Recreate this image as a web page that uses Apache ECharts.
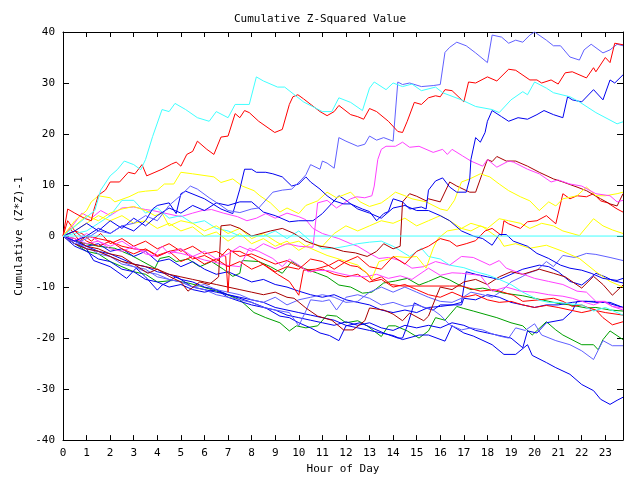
<!DOCTYPE html>
<html><head><meta charset="utf-8">
<script src="https://cdn.jsdelivr.net/npm/echarts@6/dist/echarts.min.js"></script>
<style>html,body{margin:0;padding:0;background:#fff}#c{width:640px;height:480px}</style>
</head><body><div id="c"></div>
<script>
// ---- data: [hour, cumulative value] ----
const cyanFlat = [[0,0],[23.75,0]];
const cyanTop = [[0,0],[0.4,1.5],[0.8,3],[1.35,5],[1.6,9],[2,11.8],[2.3,13],[2.6,14.7],[3,14],[3.3,13],[3.5,15],[3.8,19.5],[4.2,24.8],[4.5,24.4],[4.75,26],[5.2,24.8],[5.7,23.2],[6.2,22.5],[6.5,24.4],[7,23.2],[7.3,25.8],[7.9,25.8],[8.2,31.2],[8.5,30.4],[9.1,29.2],[9.4,29.2],[10.2,26.3],[11,24.4],[11.4,24.4],[11.7,27.1],[12.2,26.2],[12.7,24.6],[13,29],[13.2,30.2],[13.7,28.7],[14,30],[14.4,29.3],[14.8,29.8],[15.2,28.5],[15.8,29.2],[16.1,28.1],[16.9,26.7],[17.5,25.4],[18.2,24.8],[18.5,24.2],[19,26.7],[19.5,28.3],[19.7,27.7],[20,30.2],[20.5,29],[20.8,28.1],[21.5,27.3],[21.9,26.3],[22.6,24.2],[23.5,22],[23.75,22.4]];
const cyanLow = [[0,0],[0.5,0.5],[1,1],[1.5,2.5],[2,4],[2.5,7],[3,7],[3.5,4.5],[4,5.5],[4.5,3.5],[5,4],[5.5,2.5],[6,3],[6.5,1.5],[7,1],[7.5,0],[8,0.1],[8.5,0],[9,1],[9.5,-0.5],[10,1],[10.5,-1],[11,-2.5],[11.5,-2.4],[12,-2],[12.5,-1.5],[13,-1.2],[13.5,-1],[14,-2],[14.7,-4],[15.2,-2.4],[15.5,-4],[16,-4.5],[16.4,-5.7],[17,-6.2],[17.5,-7],[18,-7.6],[18.5,-8.5],[19,-9.5],[19.5,-11],[20.2,-12.6],[20.6,-13],[21,-13],[21.5,-13.3],[22,-13.5],[22.5,-14.7],[23,-14],[23.75,-15.5]];
const redTop = [[0,0],[0.2,5.3],[0.5,4.5],[0.9,3.5],[1.2,3],[1.3,5],[1.5,8],[1.8,9],[2,10.6],[2.4,10.6],[2.77,12.5],[3.05,12.2],[3.35,14],[3.55,11.8],[3.9,12.5],[4.2,13.1],[4.6,14.1],[4.8,14.5],[5,13.7],[5.25,16],[5.5,16.6],[5.7,18.6],[6.1,17],[6.4,16],[6.7,19.4],[7,19.6],[7.3,24],[7.5,23.2],[7.7,24.6],[7.9,24.2],[8.3,22.5],[8.98,20.3],[9.3,20.9],[9.6,25.8],[9.75,27.3],[9.96,27.7],[10.2,26.9],[10.9,24.4],[11.2,23.6],[11.5,24.4],[11.7,25.6],[12.2,23.8],[12.5,23.4],[12.75,22.9],[13,25],[13.3,24.4],[13.8,22.5],[14.2,20.5],[14.4,20.3],[14.6,22.5],[14.9,26.2],[15.2,25.8],[15.5,27.1],[15.8,27.5],[16,27.3],[16.2,28.7],[16.5,28.5],[17,26.3],[17.2,30.2],[17.5,30],[18,31.2],[18.4,30.4],[18.9,32.7],[19.2,32.5],[19.8,30.6],[20.1,30.6],[20.3,30],[20.7,30.6],[21,29.8],[21.3,32],[21.6,32.2],[21.8,31.8],[22.2,31],[22.5,33],[22.6,32.2],[23,35],[23.2,34],[23.4,37.8],[23.75,37.5]];
const redMid = [[0,0],[0.5,1],[1,-1],[1.5,-2],[2,-1],[2.5,-2.5],[3,-3.5],[3.5,-2.5],[4,-4],[4.5,-3],[5,-5],[5.5,-4],[6,-5.5],[6.5,-4.5],[7,-6],[7.5,-5],[8,-6.5],[8.5,-5.5],[9,-7],[9.5,-6],[10,-6.5],[10.5,-4.5],[11,-5],[11.5,-6.5],[12,-5],[12.5,-4],[13,-6],[13.5,-6.5],[14,-4],[14.5,-5.5],[15,-3],[15.5,-2],[16,-0.5],[16.4,-1],[16.7,-2],[17.1,-1.5],[17.5,-0.9],[17.9,1],[18.2,1.5],[18.6,0.1],[18.7,3],[18.9,2.4],[19.4,1.5],[19.7,2.8],[20.1,3],[20.5,4],[20.9,2.4],[21.2,8.3],[21.5,7.3],[21.8,7.9],[22.2,7.7],[22.5,8.3],[22.8,6.9],[23.1,6.5],[23.5,5.3],[23.75,4.7]];
const redLow = [[0,0],[0.2,3],[0.5,1],[0.8,0.5],[1.2,-1],[1.6,0.5],[2,-1.5],[2.5,-0.5],[3,-2],[3.5,-1],[4,-2.5],[4.5,-1.5],[5,-3],[5.5,-2],[6,-3.5],[6.5,-3],[6.9,-4],[7,-11],[7.1,-3],[7.5,-3],[8.1,-4.4],[8.6,-5.9],[9.1,-7.5],[9.6,-8.9],[10,-11.6],[10.2,-6.7],[10.7,-6.5],[11.3,-5.7],[11.7,-4.7],[12.2,-5.8],[12.5,-6],[12.9,-7.3],[13.1,-8.7],[13.5,-8],[13.9,-9.5],[14.4,-9.8],[16.4,-9.8],[16.9,-9.8],[17.7,-10.8],[18.3,-10.5],[19.1,-11.6],[19.5,-12.8],[20.2,-12.5],[20.8,-12.2],[21.2,-12.8],[21.6,-13.8],[22,-13.5],[22.3,-14.1],[22.6,-14.5],[22.9,-16],[23.3,-17.4],[23.75,-16.8]];
const redBand = [[0,0],[0.3,1.5],[0.7,-1],[1,0],[1.5,-0.5],[2,-1],[2.5,-2],[3,-2.5],[3.6,-2.8],[4,-3.8],[4.5,-3],[5,-2.5],[5.5,-4.5],[6,-3.8],[6.5,-5],[7,-2.5],[7.5,-4],[8,-3.5],[8.5,-4.5],[9,-5.5],[9.5,-4.8],[10,-6],[10.5,-7],[11,-6.5],[11.5,-7.5],[12,-8],[12.5,-7.5],[13,-9],[13.5,-8.5],[14,-10],[14.5,-9.5],[15,-10.5],[15.5,-11.5],[16,-12],[16.5,-11],[17,-12],[17.5,-11.5],[18,-12.5],[18.5,-13],[19,-12.8],[19.5,-13.5],[20,-14],[20.5,-13.6],[21,-14],[21.5,-14.5],[22,-15],[22.5,-14.5],[23,-15],[23.75,-15.5]];
const lightBlueTop = [[0,0],[0.5,-1.5],[1,-0.5],[1.5,1],[2,0.5],[2.5,2],[3,2.5],[3.5,4],[4,3],[4.5,6],[5,8],[5.4,9.8],[5.7,9.2],[6.2,7.5],[6.7,6],[7,5],[7.5,4.6],[8,5.3],[8.3,5.5],[8.9,8.6],[9.3,9],[9.7,9.2],[10.1,11],[10.3,12],[10.5,14],[10.9,13.1],[11,14.7],[11.2,14.3],[11.5,13.3],[11.7,19.3],[12,18.6],[12.5,17.6],[12.8,18],[13,19.6],[13.3,18.8],[13.6,19.3],[14,18.6],[14.2,30.2],[14.4,29.7],[14.7,30],[15.2,29.3],[15.7,29.5],[16,29.7],[16.2,36],[16.4,37],[16.7,38],[17.1,37.3],[17.5,35.9],[18,34],[18.2,39.4],[18.6,39],[18.9,37.8],[19.2,38.4],[19.5,38],[19.8,39.4],[20,40],[20.5,38.4],[20.8,37.3],[21.1,37.3],[21.5,35.1],[21.9,34.5],[22.1,36.5],[22.4,37.6],[22.9,35.9],[23.2,36.5],[23.5,37.6],[23.75,37.3]];
const lightBlueLow = [[0,0],[0.5,-1],[1,-2.5],[1.5,-3],[2,-4],[2.5,-5.5],[3,-6],[3.5,-7],[4,-7.5],[4.5,-8.5],[5,-9],[5.5,-10],[6,-10.5],[6.5,-11.5],[7,-12],[7.5,-12.5],[8,-13],[8.5,-14],[9,-14.5],[9.6,-15],[10,-17.6],[10.3,-14.7],[10.5,-12.5],[11,-12.8],[11.3,-12.5],[11.6,-14.5],[12,-12],[12.5,-11.5],[13,-12.2],[13.5,-13.5],[14,-13],[14.5,-13.8],[15,-13.5],[15.7,-14.5],[16,-15.5],[16.4,-17.4],[16.9,-18.4],[17.3,-18],[17.8,-18.4],[18.1,-19],[18.5,-19.6],[18.9,-20],[19.2,-18],[19.6,-18.5],[20,-17.2],[20.3,-19.4],[20.9,-20.5],[21.5,-21.3],[22,-22.5],[22.5,-24.2],[22.9,-20.5],[23.3,-21.5],[23.75,-21.5]];
const lightBlueRise = [[0,0],[0.5,-1.5],[1,-2],[1.5,-3.5],[2,-4],[2.5,-5],[3,-6],[3.5,-6.5],[4,-8],[4.5,-8.5],[5,-9],[5.5,-10],[6,-9.5],[6.5,-10.5],[7,-11],[7.5,-11.5],[8,-12.5],[8.5,-13],[9,-12],[9.5,-13.5],[10,-12.5],[10.5,-12],[11,-11.5],[11.5,-12],[12,-13],[12.5,-12.8],[13,-11],[13.5,-10],[14,-11],[14.5,-10],[15,-11],[15.5,-12],[16,-12.8],[16.5,-13],[16.9,-12.2],[17.3,-11],[17.8,-11.5],[18.2,-12],[18.6,-10.8],[19,-9],[19.5,-7.9],[19.7,-7.3],[20.1,-6.7],[20.5,-5],[20.8,-6],[21.2,-3.8],[21.7,-4.2],[22.2,-3.4],[22.6,-3.6],[23.2,-4.2],[23.75,-4.8]];
const blueTop = [[0,0],[0.5,-1],[1,0],[1.5,1.5],[2,0.5],[2.5,2],[3,1],[3.5,3],[3.8,5.3],[4,6],[4.5,6.5],[4.8,4.4],[5,8.3],[5.2,8.8],[6,7.3],[6.7,5.3],[7.2,4.4],[7.5,9.2],[7.7,13.1],[8,13.1],[8.2,12.5],[8.6,12.5],[8.9,12.2],[9.3,11.6],[9.7,9.8],[10,10.2],[10.3,11.6],[10.5,10.6],[10.9,9.2],[11.2,7.9],[11.5,6.9],[11.9,6.3],[12.2,6.3],[12.7,5.3],[13,4.8],[13.3,3],[13.6,4.4],[13.8,4.8],[14,7.3],[14.4,6.7],[14.7,5.3],[15.2,5.7],[15.4,5.3],[15.5,9],[15.8,10.8],[16.1,11.4],[16.4,9.6],[16.7,8.6],[17.1,8.6],[17.25,11.2],[17.3,15],[17.5,19.3],[17.7,18.4],[17.9,20.3],[18,22.5],[18.2,24.6],[18.6,23.4],[18.9,22.5],[19.3,23.2],[19.7,22.9],[20.1,23.8],[20.4,24.6],[20.8,23.8],[21.2,23.2],[21.4,27.3],[21.6,26.7],[22,26.3],[22.5,28.7],[22.9,26.7],[23.2,30.6],[23.4,30],[23.75,31.6]];
const blueMid = [[0,0],[0.5,1],[1,2.5],[1.5,1],[2,3],[2.5,1.5],[3,3.5],[3.5,2],[4,4],[4.5,5.5],[5,4.5],[5.5,6],[6,5],[6.5,6.5],[7,6],[7.5,6.7],[8,6.7],[8.5,4.7],[9,4],[9.6,2.8],[10,3],[10.6,3],[11,4.4],[11.3,5.9],[11.7,7.9],[12,7],[12.5,5.3],[13,4.5],[13.5,3.5],[14,5.5],[14.5,6],[15,5],[15.5,5],[16,4],[16.4,3],[16.9,1],[17.4,0],[17.8,-0.5],[18.2,-1.8],[18.5,0.3],[18.8,0.3],[19.1,-1],[19.7,-2],[20.1,-3.4],[20.6,-4.4],[21.1,-5.7],[21.5,-6.3],[22,-6.7],[22.4,-7.3],[22.9,-8.3],[23.5,-8.7],[23.75,-8.3]];
const blueLowest = [[0,0],[0.5,-1],[1,-2],[1.5,-3],[2,-3.5],[2.5,-4.5],[3,-5.5],[3.5,-6],[4,-7],[4.5,-7.5],[5,-8.5],[5.5,-9],[6,-10],[6.5,-10.5],[7,-11.5],[7.5,-12],[8,-12.5],[8.5,-13],[9,-14],[9.5,-14.5],[10,-15],[10.5,-15.5],[11,-16],[11.5,-16.5],[12,-17.5],[12.5,-18],[13,-18.5],[13.5,-19],[14,-19.5],[14.4,-20.3],[14.8,-19.8],[15.1,-19.4],[15.5,-19.4],[16.2,-20.6],[16.5,-17.6],[17,-19],[17.4,-19.6],[18.2,-21.3],[18.7,-23.2],[19.2,-23.2],[19.7,-21.3],[19.9,-23.4],[20.5,-24.8],[20.9,-25.8],[21.5,-27.1],[22,-29.1],[22.5,-30.3],[22.8,-32],[23.2,-33],[23.5,-32.2],[23.75,-31.6]];
const blueDip = [[0,0],[0.5,-1.5],[1,-2.5],[1.3,-4.8],[2,-6],[2.7,-8.3],[3.1,-6.3],[3.5,-8],[4,-10.6],[4.2,-9.6],[4.5,-8.9],[4.8,-7.9],[5.5,-10],[6,-10.5],[6.5,-11],[7,-11.5],[7.5,-12.2],[8,-13],[8.6,-14.1],[9.2,-15.7],[9.6,-16],[10,-17],[10.5,-18],[10.9,-19],[11.3,-19.5],[11.7,-20.5],[12,-17.6],[12.6,-17],[13.1,-18],[13.6,-19],[14.2,-20],[14.4,-20],[14.6,-17.6],[14.9,-13.1],[15.3,-14],[15.7,-14.5],[16,-13.5],[16.9,-13.5],[17,-12.2],[17.5,-12.5],[18,-11.5],[18.5,-12],[19,-13],[19.5,-13.5],[20,-14],[20.5,-13.5],[21,-13.5],[21.6,-13],[22,-12.8],[22.5,-12.8],[23,-13],[23.75,-14]];
const blueJump = [[0,0],[0.5,-1],[1,-2],[1.5,-1.5],[2,-3],[2.5,-2.5],[3,-4],[3.5,-3],[4,-5],[4.5,-4.5],[5,-6],[5.5,-5],[6,-6.5],[6.5,-7.5],[7,-7],[7.5,-8],[8,-9],[8.5,-8.5],[9,-9.5],[9.5,-10],[10,-10.8],[10.5,-11.5],[11,-12],[11.5,-11.5],[12,-12.5],[12.5,-13],[13,-13.5],[13.5,-14.5],[14,-15],[14.5,-14.5],[15,-15],[15.5,-14],[16,-13.8],[16.5,-13.5],[16.9,-13],[17.1,-7],[17.5,-7.5],[18,-8],[18.5,-8.5],[19,-7.5],[19.5,-6.5],[20.2,-5.7],[20.6,-6],[21,-7],[21.5,-8.9],[22,-9.6],[22.3,-8.5],[22.6,-7.3],[23,-8],[23.3,-8.7],[23.75,-9.2]];
const blueBand = [[0,0],[0.5,-2],[1,-3],[1.5,-4.5],[2,-5],[2.5,-6.5],[3,-7],[3.5,-8.5],[4,-9],[4.5,-10],[5,-9.5],[5.5,-10.5],[6,-11],[6.5,-10.5],[7,-12],[7.5,-12.8],[8,-13.5],[8.5,-14],[9,-14.5],[9.5,-15.5],[10,-16],[10.5,-16.5],[11,-17],[11.5,-17.5],[12,-16.8],[12.5,-17.5],[13,-17],[13.5,-18],[14,-18.5],[14.5,-17.5],[15,-18],[15.5,-17.5],[16,-18],[16.5,-17],[17,-17.5],[17.5,-18.5],[18,-19],[18.5,-19.5],[19,-20],[19.5,-21.9],[19.7,-18.6],[20.1,-19],[20.5,-17],[21.2,-16.4],[21.6,-14.7],[21.8,-12.8],[22.2,-12.8],[22.6,-13],[23.2,-13],[23.75,-14]];
const magentaJump = [[0,0],[0.5,-1],[1,0.5],[1.5,-1],[2,-2],[2.5,-1],[3,-2.5],[3.5,-3],[3.8,-4],[4.2,-2],[4.5,-3.5],[5,-2.5],[5.5,-4],[6,-3],[6.5,-4.5],[7,-3.5],[7.5,-2],[8,-3],[8.5,-1.5],[9,-2.5],[9.5,-1.5],[10,-2],[10.6,-2.2],[10.8,6.5],[11.2,7],[11.6,5.5],[12.2,7.3],[12.45,7.7],[12.8,7.5],[13.1,7.9],[13.2,9.8],[13.35,15],[13.5,17],[13.7,17.6],[14.1,17.6],[14.4,18.4],[14.7,17.4],[15.1,17.6],[15.7,16.4],[16.1,17],[16.3,16],[16.5,17],[16.95,15.7],[17.3,14.7],[17.8,13.7],[18,15],[18.4,13.5],[18.9,14.7],[19.1,14.5],[19.7,13.1],[20.2,12.2],[20.7,10.6],[21,11],[21.5,10.2],[22,9.8],[22.6,8.3],[23.2,7.9],[23.5,6.7],[23.75,7]];
const magentaMid = [[0,0],[0.4,2],[0.8,4.5],[1.2,3.5],[1.6,5],[2,4],[2.5,5.5],[3,5.7],[3.5,5.2],[3.8,5],[4.3,4.5],[5,3.8],[5.5,4.5],[5.9,5],[6.3,5.2],[6.8,4.5],[7.4,3.8],[7.8,3],[8.2,3.5],[8.6,4.4],[9,3.5],[9.5,4.5],[10,3.8],[10.3,3.2],[10.6,1.5],[11,0.5],[11.7,-0.5],[12.2,-1.5],[12.5,-2],[13,-3.4],[13.4,-4.4],[13.8,-4.2],[14.3,-4.8],[14.8,-6.3],[15.3,-6],[15.8,-5],[16.4,-5.7],[16.9,-4],[17.4,-4.2],[18.1,-5.7],[18.5,-4.8],[18.8,-6.3],[19.4,-7.3],[20,-8.3],[20.6,-8.9],[21.2,-9.5],[21.8,-10.8],[22.2,-11],[22.6,-12.8],[23,-12.8],[23.3,-13.8],[23.75,-14.1]];
const magentaLow = [[0,0],[0.5,-0.5],[1,-1.5],[1.5,-1],[2,-2.5],[2.5,-3],[3,-2],[3.5,-3.5],[4,-4],[4.5,-3],[5,-3.4],[5.5,-4],[6,-4.7],[6.5,-5.2],[6.9,-5.7],[7.5,-6],[7.9,-2.4],[8.3,-3],[8.9,-4.4],[9.3,-6],[9.6,-4.5],[10,-5.7],[10.4,-7],[10.8,-6.7],[11.3,-6.8],[11.7,-7.3],[12.2,-7.8],[12.8,-8],[13.3,-7.5],[13.8,-8.3],[14.3,-7.8],[14.8,-8.5],[15.5,-6.3],[16,-7.7],[16.5,-7.2],[16.9,-7.3],[17.7,-7.7],[18.2,-10.8],[18.8,-10],[19.4,-10.8],[20,-11],[20.6,-11.5],[21.2,-11.8],[21.6,-12.2],[22,-12.8],[22.5,-13.5],[22.9,-12.8],[23.3,-13.8],[23.75,-14.5]];
const darkRedJump = [[0,0],[0.5,-1.5],[1,-2.5],[1.5,-3],[2,-4],[2.5,-5],[3,-5.5],[3.6,-7.3],[4,-6.5],[4.5,-7.9],[5,-9],[5.3,-10.8],[5.8,-9],[6.2,-9.5],[6.6,-8],[6.7,2],[7.1,2.2],[7.5,1.5],[8,0],[8.8,1],[9.3,1.5],[9.8,0.5],[10.3,-1],[10.9,-2],[11.4,-2.3],[11.9,-3],[12.4,-3.3],[12.9,-4],[13.3,-3],[13.6,-1.5],[14,-2.5],[14.3,-2],[14.4,6.7],[14.7,8.3],[15,7.8],[15.4,6.9],[15.5,7.3],[16,6.7],[16.4,10.6],[16.7,9.8],[17.25,8.6],[17.5,8.6],[17.8,12.5],[18,15],[18.2,14.6],[18.4,15.6],[18.8,14.7],[19.2,14.7],[19.7,13.7],[20.2,12.5],[20.8,11.2],[21.2,10.6],[21.8,9.6],[22.2,8.9],[22.8,7.3],[23.2,6.3],[23.5,5.9],[23.75,8.3]];
const darkRedLow = [[0,0],[0.5,-0.5],[1,-2],[1.5,-2.5],[2,-3.5],[2.5,-4],[3,-5.5],[3.5,-6],[4,-6.5],[4.5,-7.5],[5,-8],[5.5,-8.5],[6,-9],[6.5,-9.5],[7,-10],[7.5,-10.5],[8,-11],[8.5,-11.5],[9,-11],[9.5,-12],[9.8,-12.2],[10.3,-14.1],[10.8,-15.7],[11.4,-16.5],[11.9,-18.4],[12.3,-18.4],[12.8,-16.6],[13,-14.1],[13.6,-14.5],[14,-15.3],[14.4,-16.6],[14.7,-15.1],[15.3,-16.6],[15.5,-15.7],[15.8,-12.2],[16,-10],[16.5,-10.5],[17,-9],[17.5,-8.5],[18,-9.5],[18.5,-8],[19,-7],[19.5,-7.5],[20.2,-6.5],[20.8,-7.3],[21.3,-8],[22,-10.2],[22.5,-7.9],[22.9,-9.5],[23.3,-11.6],[23.75,-9.6]];
const yellowTop = [[0,0],[0.5,3],[1,5],[1.2,6.7],[1.5,7.9],[2,7.5],[2.2,6.7],[2.5,7.2],[2.8,7.7],[3.2,8.6],[3.5,8.8],[4,9],[4.3,10.2],[4.7,10.2],[5,12.5],[5.5,12.2],[6.4,11.6],[6.7,10.5],[7.2,11.2],[7.6,9.8],[8.1,8.9],[8.35,7.9],[8.8,6.5],[9.2,4.7],[9.5,5.5],[10,4.4],[10.3,6],[10.8,6.9],[11.2,8.6],[11.6,7.5],[12.2,8.6],[12.6,6.7],[13,5.8],[13.5,6.5],[13.8,7.5],[14.1,8.6],[14.5,7.9],[14.8,7.3],[15.4,6.7],[16,5.3],[16.3,5],[16.6,7],[16.9,10.6],[17.25,11.2],[17.7,12.2],[18.1,11.6],[18.5,10.2],[18.9,8.9],[19.4,7.7],[19.8,6.9],[20.2,5],[20.6,6.7],[20.9,5.9],[21.2,7.3],[21.8,7.9],[22.2,9.6],[22.6,7.9],[23,7.9],[23.5,8.3],[23.75,8.6]];
const yellowMid = [[0,0],[0.5,1],[1,2.5],[1.5,4],[2,3],[2.5,4],[3,2.5],[3.5,3],[4,1.5],[4.5,2.5],[5,1],[5.5,1.8],[6,0],[6.5,0.8],[7,-1],[7.5,0.5],[8,-1.5],[8.5,-0.5],[9,-2],[9.5,-1],[10,-2.8],[10.5,-1.5],[11,-2],[11.5,0.5],[12,2],[12.5,1],[13,2],[13.5,3],[14,2.5],[14.5,3.5],[15,2],[15.5,3],[16,4],[16.4,3],[16.9,1.5],[17.3,1],[17.7,2],[18,1.5],[18.5,3.4],[18.9,3],[19.4,2.5],[19.8,1.5],[20.3,2.5],[20.8,2],[21.2,1],[21.9,0.1],[22.5,3.4],[22.9,2],[23.3,1.2],[23.75,0.5]];
const yellowLow = [[0,0],[0.5,2],[1,4],[1.5,3],[2,4.5],[2.5,5.3],[3,5.8],[3.5,5],[3.9,4],[4.2,4.5],[4.5,2],[5,3],[5.5,2.5],[6,1],[6.5,2],[7,0.5],[7.5,1.5],[8,-0.5],[8.5,0.5],[9,-1],[9.3,-1.8],[10,-1],[10.3,-2],[11.2,-3.8],[11.7,-4.5],[12.5,-5.7],[12.9,-7.3],[13.1,-8.3],[13.4,-5],[13.8,-4.5],[14.1,-4],[14.6,-4.2],[15,-4],[15.4,-6.3],[15.7,-2.4],[15.9,-0.5],[16.3,1],[16.9,1.5],[17.3,2.5],[17.8,1.8],[18.2,0.5],[18.5,-0.5],[18.7,-2],[19.2,-1.5],[19.8,-2.4],[20.5,-1.8],[21.2,-3],[21.9,-4.4],[22.6,-7],[23.2,-8.9],[23.75,-10]];
const greenLow = [[0,0],[0.5,-1.5],[1,-3],[1.5,-3.5],[2,-5],[2.5,-6],[3,-7],[3.5,-7.5],[4,-9],[4.7,-8.7],[5.3,-9.2],[5.8,-9.8],[6.3,-10.5],[6.8,-11.2],[7.5,-12.5],[8.1,-15],[8.6,-16],[9.2,-17],[9.6,-18.6],[9.9,-17.6],[10.3,-18],[10.8,-17.6],[11.2,-15.5],[11.6,-15.7],[12,-17],[12.5,-16.6],[12.9,-17.6],[13.5,-19.7],[13.8,-17.6],[14.1,-17.6],[14.6,-18.6],[15.1,-20],[15.5,-18.6],[15.8,-16],[16.2,-16.5],[16.7,-13.8],[17,-14.2],[17.4,-14.7],[18.4,-16],[19,-17],[19.5,-17.6],[19.9,-19.4],[20.5,-16.8],[20.9,-18.4],[21.2,-19.4],[22,-21.3],[22.5,-21.3],[22.7,-22.3],[22.9,-20.3],[23.2,-18.6],[23.75,-20.3]];
const greenMid = [[0,0],[0.5,-1],[1,-1.5],[1.5,-2],[2.2,-2.4],[2.9,-3.8],[3.3,-4.8],[3.9,-6.3],[4.1,-4.4],[4.5,-4],[4.8,-5],[5.3,-4.5],[5.8,-6],[6.3,-5],[6.8,-6.5],[7.2,-7.9],[7.5,-7.3],[7.6,-4.8],[8.3,-5],[8.8,-6],[9.3,-7.3],[9.7,-5],[10.2,-6.3],[10.8,-7.3],[11.2,-8],[11.7,-9.6],[12.2,-10],[12.7,-11.2],[13.1,-11],[13.6,-9.2],[14.1,-8.8],[14.6,-8.3],[15.1,-9.6],[15.5,-8.9],[16,-7.9],[16.4,-8.6],[16.8,-9.6],[17.3,-10.5],[17.8,-10.2],[18.7,-11.2],[19.5,-11.7],[20,-12.2],[20.6,-12.8],[21,-13.2],[21.5,-13.5],[22.2,-14.1],[22.6,-14],[23.2,-14.5],[23.75,-14.7]];

const hourTicks = { min: 0, max: 23.75, step: 1 };
const valueTicks = { min: -40, max: 40, step: 10 };

// ---- styling (kept apart from the data) ----
const C = { cyan:'#40ffff', red:'#ff0000', dred:'#a80000', blue:'#0000f0', lblue:'#6060ff', mag:'#ff40ff', yel:'#ffff00', grn:'#00a000' };
const lines = [
  [greenLow, C.grn],[greenMid, C.grn],[blueLowest, C.blue],[blueDip, C.blue],[blueBand, C.blue],[blueJump, C.blue],
  [lightBlueLow, C.lblue],[lightBlueRise, C.lblue],[darkRedLow, C.dred],[redLow, C.red],[redBand, C.red],
  [magentaLow, C.mag],[magentaMid, C.mag],[cyanLow, C.cyan],[yellowLow, C.yel],[yellowMid, C.yel],
  [redMid, C.red],[blueMid, C.blue],[darkRedJump, C.dred],[yellowTop, C.yel],[magentaJump, C.mag],
  [blueTop, C.blue],[lightBlueTop, C.lblue],[redTop, C.red],[cyanTop, C.cyan],[cyanFlat, C.cyan]
];

const font = 'DejaVu Sans Mono';
const txt = { fontFamily: font, fontSize: 11, color: '#000' };
const axisLine = { show: true, onZero: false, lineStyle: { color: '#000', width: 1 } };
function xAx(pos, withLabels) {
  return {
    type: 'value', position: pos, min: hourTicks.min, max: hourTicks.max, interval: hourTicks.step,
    axisLine, splitLine: { show: false },
    axisTick: { show: true, inside: true, length: 5, lineStyle: { color: '#000' } },
    axisLabel: withLabels ? Object.assign({ show: true, margin: 8, showMaxLabel: false }, txt) : { show: false },
    name: withLabels ? 'Hour of Day' : '', nameLocation: 'middle', nameGap: 22, nameTextStyle: txt
  };
}
function yAx(pos, withLabels) {
  return {
    type: 'value', position: pos, min: valueTicks.min, max: valueTicks.max, interval: valueTicks.step,
    axisLine, splitLine: { show: false },
    axisTick: { show: true, inside: true, length: 6, lineStyle: { color: '#000' } },
    axisLabel: withLabels ? Object.assign({ show: true, margin: 8 }, txt) : { show: false },
    name: withLabels ? 'Cumulative (Z*Z)-1' : '', nameLocation: 'middle', nameGap: 33, nameTextStyle: txt
  };
}
const chart = echarts.init(document.getElementById('c'), null, { renderer: 'canvas' });
chart.setOption({
  animation: false,
  backgroundColor: '#ffffff',
  title: { text: 'Cumulative Z-Squared Value', left: 'center', top: 9, textStyle: Object.assign({ fontWeight: 'normal' }, txt) },
  grid: { left: 63, right: 17, top: 32, bottom: 37 },
  xAxis: [xAx('bottom', true), xAx('top', false)],
  yAxis: [yAx('left', true), yAx('right', false)],
  series: lines.map(([d, col], i) => ({
    type: 'line', name: 's' + i, data: d, xAxisIndex: 0, yAxisIndex: 0,
    showSymbol: false, symbol: 'none', lineStyle: { width: 1, color: col }, itemStyle: { color: col },
    emphasis: { disabled: true }, silent: true, clip: true
  }))
});
</script></body></html>
